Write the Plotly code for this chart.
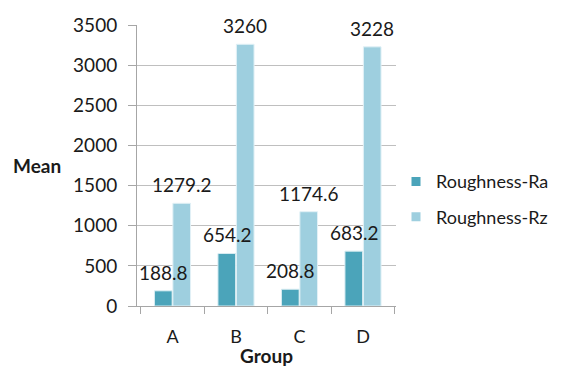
import plotly.graph_objects as go

groups = ["A", "B", "C", "D"]
ra_values = [188.8, 654.2, 208.8, 683.2]
rz_values = [1279.2, 3260, 1174.6, 3228]
y_ticks = [0, 500, 1000, 1500, 2000, 2500, 3000, 3500]

FONT = "Lato, 'Open Sans', sans-serif"
RA_COLOR = "#4BA4BA"
RZ_COLOR = "#9ECFDF"
TEXT_COLOR = "#1a1a1a"

fig = go.Figure()
fig.add_trace(go.Bar(
    name="Roughness-Ra", x=groups, y=ra_values, showlegend=False,
    marker=dict(color=RA_COLOR, line=dict(color="#d8ecf2", width=1)),
))
fig.add_trace(go.Bar(
    name="Roughness-Rz", x=groups, y=rz_values, showlegend=False,
    marker=dict(color=RZ_COLOR, line=dict(color="#e2f1f6", width=1)),
))

# legend entries with small square swatches
for name, color in (("Roughness-Ra", RA_COLOR), ("Roughness-Rz", RZ_COLOR)):
    fig.add_trace(go.Scatter(
        name=name, x=[None], y=[None], mode="markers", legendgroup=name,
        marker=dict(symbol="square", size=9, color=color),
    ))

# value labels centred above each bar
annotations = []
for series, shift in ((ra_values, -9), (rz_values, 9)):
    for g, v in zip(groups, series):
        annotations.append(dict(
            x=g, y=v, xref="x", yref="y", text=f"{v:g}",
            showarrow=False, xshift=shift, yanchor="bottom", yshift=5,
            font=dict(family=FONT, size=19, color=TEXT_COLOR),
        ))

# y-axis title placed at the left edge
annotations.append(dict(
    x=-0.285, y=0.5, xref="paper", yref="paper", text="<b>Mean</b>",
    showarrow=False, xanchor="right", yanchor="middle",
    font=dict(family=FONT, size=19, color=TEXT_COLOR),
))

fig.update_layout(
    width=562, height=367,
    margin=dict(l=137, r=166, t=25, b=61, autoexpand=False),
    paper_bgcolor="white", plot_bgcolor="white",
    barmode="group", bargap=0.42, bargroupgap=0.04,
    font=dict(family=FONT, size=18, color=TEXT_COLOR),
    annotations=annotations,
    showlegend=True,
    legend=dict(
        x=1.0, y=0.38, xanchor="left", yanchor="middle",
        font=dict(family=FONT, size=18, color=TEXT_COLOR),
        itemwidth=30, tracegroupgap=9,
    ),
    xaxis=dict(
        showline=True, linecolor="#a6a6a6", linewidth=1,
        ticks="outside", tickson="boundaries", ticklen=7, tickcolor="#a6a6a6",
        tickfont=dict(family=FONT, size=18), ticklabelstandoff=14,
        title=dict(text="<b>Group</b>", font=dict(family=FONT, size=19), standoff=0),
    ),
    yaxis=dict(
        range=[0, 3500], tickvals=y_ticks,
        showline=True, linecolor="#a6a6a6", linewidth=1,
        showgrid=True, gridcolor="#bfbfbf", gridwidth=1,
        ticks="outside", ticklen=8, tickcolor="#a6a6a6",
        tickfont=dict(family=FONT, size=19), ticklabelstandoff=7,
        zeroline=False,
    ),
)

fig.write_html("out.html")
